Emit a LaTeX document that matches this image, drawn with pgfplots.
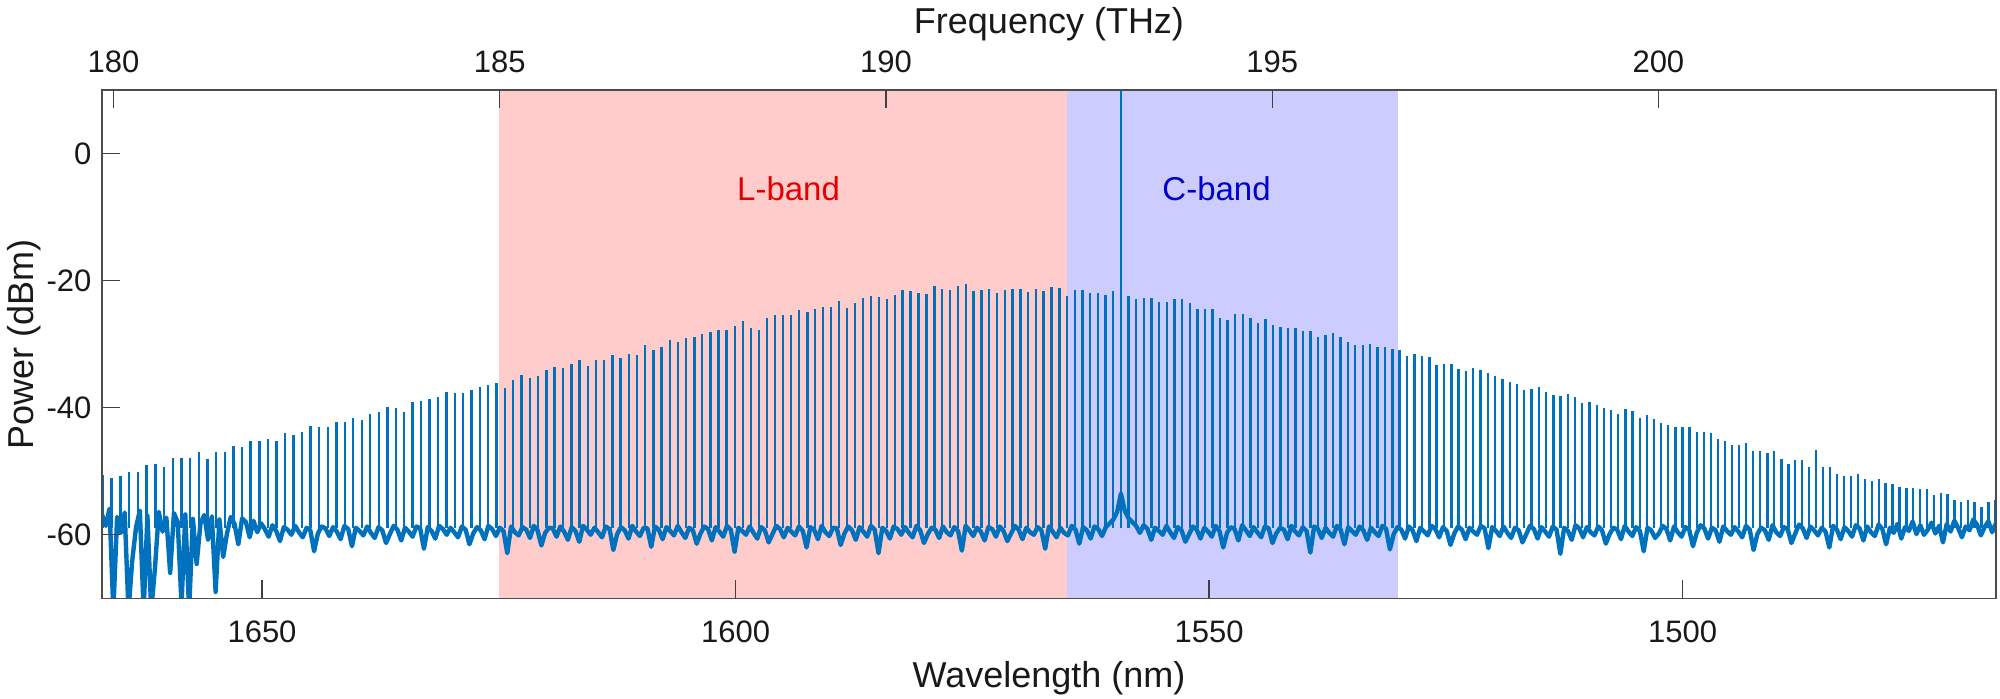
\documentclass[border=0pt]{standalone}
\usepackage{fontspec}
\setmainfont{Liberation Sans}
\usepackage{pgfplots}
\pgfplotsset{compat=1.18}
\usepackage{pgfplotstable}
\definecolor{mblue}{RGB}{0,114,189}
\definecolor{lband}{RGB}{255,204,204}
\definecolor{cband}{RGB}{204,204,255}
\definecolor{ltext}{RGB}{228,0,0}
\definecolor{ctext}{RGB}{0,0,204}

% comb line peak powers (dBm), lines at 179.86 + 0.1*i THz, i = 0..245
\pgfplotstableread[row sep=\\]{
p\\
-50.6\\ -51.1\\ -50.8\\ -50.2\\ -50.2\\ -49.0\\ -48.8\\ -49.4\\ -47.9\\ -47.9\\
-47.9\\ -46.9\\ -48.1\\ -47.0\\ -46.9\\ -46.1\\ -46.2\\ -45.3\\ -45.2\\ -45.0\\
-45.3\\ -44.0\\ -44.3\\ -43.9\\ -42.9\\ -43.1\\ -43.0\\ -42.3\\ -42.2\\ -41.7\\
-41.9\\ -41.0\\ -40.7\\ -39.9\\ -40.1\\ -40.6\\ -39.1\\ -38.9\\ -38.7\\ -38.3\\
-37.5\\ -37.7\\
-37.7\\ -37.2\\ -36.7\\ -36.4\\ -36.1\\ -36.9\\ -35.6\\ -34.8\\ -35.3\\ -35.0\\
-34.0\\ -33.6\\ -33.8\\ -33.1\\ -32.5\\ -33.4\\ -32.5\\ -32.5\\ -31.7\\ -32.2\\
-31.6\\ -31.7\\ -30.1\\ -30.9\\ -30.4\\ -29.3\\ -29.7\\ -29.1\\ -28.9\\ -28.4\\
-28.1\\ -27.7\\ -27.7\\ -27.2\\ -26.4\\ -27.5\\ -27.7\\ -25.9\\ -25.4\\ -25.4\\
-25.4\\ -24.6\\ -24.9\\ -24.5\\ -24.2\\ -24.2\\ -23.2\\ -24.3\\ -23.5\\ -22.8\\
-22.5\\ -22.6\\ -22.9\\ -22.2\\ -21.4\\ -21.7\\ -21.9\\ -22.1\\ -20.9\\ -21.3\\
-21.4\\ -20.9\\ -20.5\\ -21.6\\ -21.4\\ -21.3\\ -22.0\\ -21.4\\ -21.3\\ -21.3\\
-21.8\\ -21.3\\ -21.7\\ -21.0\\ -21.2\\ -22.4\\
-21.5\\ -21.4\\ -21.9\\ -21.9\\ -22.3\\ -21.6\\
20\\
-22.4\\ -22.9\\ -22.7\\ -22.7\\ -23.3\\ -23.3\\ -22.9\\ -22.9\\ -23.6\\ -24.4\\
-24.4\\ -24.4\\ -25.9\\ -26.2\\ -25.3\\ -25.2\\ -25.9\\ -26.7\\ -26.1\\ -27.0\\
-27.3\\ -27.5\\ -27.4\\ -27.9\\ -27.9\\ -28.9\\ -28.6\\ -28.3\\ -28.9\\ -29.6\\
-30.1\\ -30.2\\ -30.0\\ -30.4\\ -30.4\\ -30.8\\ -30.9\\ -31.9\\ -31.6\\ -31.8\\
-32.0\\ -33.3\\ -33.2\\ -33.1\\ -33.9\\ -34.2\\ -33.8\\ -34.1\\ -34.6\\ -35.0\\
-35.5\\ -35.9\\ -36.3\\ -37.2\\ -37.0\\ -36.7\\ -37.5\\ -38.0\\ -38.2\\ -37.9\\
-38.3\\ -39.2\\ -39.1\\ -39.6\\
-40.0\\ -40.3\\ -41.0\\ -40.2\\ -40.5\\ -41.6\\ -41.2\\ -41.8\\ -42.4\\ -42.7\\
-43.1\\ -43.1\\ -43.0\\ -43.9\\ -43.9\\ -44.0\\ -45.0\\ -45.2\\ -45.8\\ -45.8\\
-45.6\\ -46.8\\ -46.8\\ -47.2\\ -46.8\\ -48.0\\ -48.9\\ -48.3\\ -48.2\\ -49.4\\
-46.6\\ -49.4\\ -49.4\\ -50.4\\ -50.7\\ -50.7\\ -50.4\\ -51.3\\ -51.6\\ -51.3\\
-51.8\\ -52.0\\ -52.5\\ -52.7\\ -52.7\\ -52.8\\ -52.8\\ -53.7\\ -53.4\\ -53.6\\
-54.6\\ -54.8\\ -54.5\\ -54.9\\ -55.6\\ -54.9\\ -54.5\\
}\combtab

% noise floor (dBm), sampled every 0.4 nm from 1466.9 nm
\pgfplotstableread[row sep=\\]{
n\\
-58.2\\ -59.6\\ -57.9\\ -58.8\\ -60.1\\ -58.4\\ -57.6\\ -59.3\\ -58.7\\ -60.4\\
-58.9\\ -57.8\\ -59.5\\ -58.3\\ -61.2\\ -58.6\\ -59.8\\ -58.1\\ -59.2\\ -60.0\\
-58.5\\ -59.9\\ -57.9\\ -59.4\\ -58.8\\ -60.6\\ -58.3\\ -59.7\\ -58.9\\ -61.5\\
-59.1\\ -58.4\\ -60.2\\ -59.6\\ -58.7\\ -60.9\\ -59.0\\ -58.5\\ -60.3\\ -59.4\\
-58.8\\ -60.7\\ -59.2\\ -58.6\\ -62.0\\ -59.5\\ -58.9\\ -60.1\\ -59.3\\ -58.7\\
-60.5\\ -59.0\\ -58.4\\ -59.8\\ -61.3\\ -59.1\\ -58.8\\ -60.2\\ -59.6\\ -58.5\\
-60.8\\ -59.3\\ -58.9\\ -59.9\\ -62.4\\ -59.2\\ -58.6\\ -60.4\\ -59.5\\ -58.8\\
-60.0\\ -59.4\\ -58.7\\ -61.1\\ -59.3\\ -58.9\\ -60.6\\ -59.0\\ -58.5\\ -59.7\\
-61.8\\ -59.2\\ -58.8\\ -60.3\\ -59.6\\ -58.7\\ -60.9\\ -59.1\\ -58.6\\ -59.8\\
-60.5\\ -59.3\\ -58.9\\ -62.6\\ -59.4\\ -58.8\\ -60.2\\ -59.5\\ -58.6\\ -60.7\\
-59.2\\ -58.9\\ -59.9\\ -61.4\\ -59.3\\ -58.7\\ -60.1\\ -59.6\\ -58.8\\ -60.4\\
-59.0\\ -58.5\\ -60.8\\ -59.4\\ -58.9\\ -63.0\\ -59.2\\ -58.7\\ -60.3\\ -59.5\\
-58.8\\ -60.6\\ -59.1\\ -58.6\\ -59.9\\ -61.2\\ -59.3\\ -58.9\\ -60.5\\ -59.7\\
-58.7\\ -60.2\\ -59.4\\ -58.8\\ -62.1\\ -59.0\\ -58.6\\ -60.0\\ -59.5\\ -58.9\\
-60.7\\ -59.2\\ -58.7\\ -59.8\\ -61.6\\ -59.4\\ -58.8\\ -60.4\\ -59.1\\ -58.6\\
-60.1\\ -59.5\\ -58.9\\ -61.0\\ -59.3\\ -58.7\\ -60.6\\ -59.2\\ -58.8\\ -59.9\\
-62.3\\ -59.1\\ -58.6\\ -60.2\\ -59.6\\ -58.9\\ -60.8\\ -59.3\\ -58.7\\ -60.0\\
-59.4\\ -58.8\\ -61.5\\ -59.2\\ -58.6\\ -60.3\\ -59.7\\ -58.9\\ -60.5\\ -59.1\\
-58.7\\ -62.8\\ -59.4\\ -58.8\\ -60.1\\ -59.5\\ -58.6\\ -60.7\\ -59.2\\ -58.9\\
-59.8\\ -61.3\\ -59.0\\ -58.7\\ -60.4\\ -59.6\\ -58.8\\ -60.2\\ -59.3\\ -58.5\\
-60.9\\ -59.1\\ -58.8\\ -59.7\\ -62.0\\ -59.4\\ -58.6\\ -60.3\\ -59.5\\ -58.9\\
-60.6\\ -59.2\\ -58.7\\ -59.9\\ -61.1\\ -59.3\\ -58.8\\ -60.5\\ -59.6\\ -58.6\\
-60.0\\ -59.4\\ -58.9\\ -60.8\\ -59.1\\ -58.5\\ -59.7\\ -58.6\\ -58.0\\ -57.4\\
-56.2\\ -53.5\\ -56.4\\ -57.6\\ -58.2\\ -58.8\\ -60.2\\ -59.1\\ -58.7\\ -60.6\\
-59.3\\ -58.8\\ -61.4\\ -59.2\\ -58.6\\ -60.1\\ -59.7\\ -58.9\\ -60.4\\ -59.5\\
-58.7\\ -62.2\\ -59.3\\ -58.8\\ -60.0\\ -59.6\\ -58.9\\ -60.7\\ -59.2\\ -58.6\\
-59.8\\ -61.0\\ -59.4\\ -58.7\\ -60.3\\ -59.1\\ -58.8\\ -60.9\\ -59.5\\ -58.9\\
-60.2\\ -59.3\\ -58.6\\ -62.5\\ -59.4\\ -58.8\\ -60.1\\ -59.6\\ -58.7\\ -60.5\\
-59.2\\ -58.9\\ -59.9\\ -61.3\\ -59.3\\ -58.6\\ -60.4\\ -59.7\\ -58.8\\ -60.0\\
-59.1\\ -58.7\\ -60.6\\ -59.4\\ -58.9\\ -62.9\\ -59.2\\ -58.6\\ -60.3\\ -59.5\\
-58.8\\ -60.8\\ -59.3\\ -58.7\\ -59.8\\ -61.6\\ -59.0\\ -58.9\\ -60.2\\ -59.6\\
-58.6\\ -60.7\\ -59.2\\ -58.8\\ -62.0\\ -59.4\\ -58.7\\ -60.1\\ -59.5\\ -58.9\\
-60.4\\ -59.1\\ -58.6\\ -59.9\\ -61.2\\ -59.3\\ -58.8\\ -60.6\\ -59.7\\ -58.7\\
-60.0\\ -59.4\\ -58.9\\ -62.7\\ -59.2\\ -58.6\\ -60.3\\ -59.5\\ -58.8\\ -60.9\\
-59.1\\ -58.7\\ -59.8\\ -61.4\\ -59.3\\ -58.9\\ -60.5\\ -59.6\\ -58.6\\ -60.1\\
-59.4\\ -58.8\\ -60.7\\ -59.2\\ -58.7\\ -61.9\\ -59.0\\ -58.9\\ -60.2\\ -59.5\\
-58.6\\ -60.6\\ -59.3\\ -58.8\\ -59.9\\ -62.4\\ -59.1\\ -58.7\\ -60.4\\ -59.6\\
-58.9\\ -60.0\\ -59.2\\ -58.6\\ -61.1\\ -59.4\\ -58.8\\ -60.8\\ -59.5\\ -58.7\\
-60.3\\ -59.0\\ -58.9\\ -59.7\\ -61.7\\ -59.3\\ -58.6\\ -60.5\\ -59.2\\ -58.8\\
-60.1\\ -59.6\\ -58.7\\ -62.9\\ -59.4\\ -58.9\\ -60.2\\ -59.1\\ -58.6\\ -60.7\\
-59.3\\ -58.8\\ -59.8\\ -61.5\\ -59.2\\ -58.7\\ -60.4\\ -59.6\\ -58.9\\ -60.0\\
-59.1\\ -58.6\\ -60.6\\ -59.4\\ -58.8\\ -62.2\\ -59.0\\ -58.7\\ -60.3\\ -59.5\\
-58.9\\ -60.9\\ -59.2\\ -58.6\\ -59.9\\ -61.3\\ -59.3\\ -58.8\\ -60.5\\ -59.7\\
-58.7\\ -60.1\\ -59.4\\ -58.9\\ -61.8\\ -59.1\\ -58.6\\ -60.7\\ -59.5\\ -58.8\\
-60.2\\ -59.0\\ -58.7\\ -59.8\\ -62.6\\ -59.3\\ -58.9\\ -60.4\\ -59.6\\ -58.6\\
-60.0\\ -59.2\\ -58.8\\ -61.0\\ -59.4\\ -58.5\\ -60.3\\ -59.1\\ -58.2\\ -59.6\\
-57.8\\ -60.4\\ -58.0\\ -57.4\\ -61.5\\ -58.3\\ -57.2\\ -59.8\\ -63.5\\ -57.6\\
-69.0\\ -57.1\\ -60.8\\ -56.9\\ -58.2\\ -64.6\\ -57.5\\ -72.0\\ -56.8\\ -71.0\\
-58.0\\ -56.6\\ -66.0\\ -57.3\\ -59.5\\ -56.4\\ -65.2\\ -72.0\\ -57.0\\ -72.0\\
-56.2\\ -58.8\\ -64.0\\ -72.0\\ -56.5\\ -59.7\\ -57.2\\ -72.0\\ -55.9\\ -58.6\\
-56.8\\
}\noisetab

\begin{document}
\begin{tikzpicture}
\path[use as bounding box] (-51bp,-50.35bp) rectangle (949bp,299.15bp);
\begin{axis}[
  at={(0,0)}, anchor=south west,
  scale only axis, width=947bp, height=254.15bp,
  xmin=1466.9, xmax=1666.9, x dir=reverse,
  ymin=-70, ymax=10,
  xtick={1500,1550,1600,1650}, xticklabels={1500,1550,1600,1650},
  ytick={-60,-40,-20,0}, yticklabels={-60,-40,-20,0},
  xtick pos=left, ytick pos=left,
  tick align=inside,
  major tick length=9bp,
  axis line style={draw=black!70, line width=0.7bp},
  tick style={draw=black!75, line width=0.6bp},
  ticklabel style={font=\fontsize{15.5bp}{18bp}\selectfont, text=black!90},
  xticklabel style={anchor=base, yshift=-22bp},
  yticklabel style={anchor=east, xshift=-1.8bp},
  xlabel={Wavelength (nm)}, ylabel={Power (dBm)},
  label style={font=\fontsize{18bp}{21bp}\selectfont, text=black!90},
  xlabel style={at={(axis description cs:0.5,-0.1751)}, anchor=base},
  ylabel style={at={(axis description cs:-0.0359,0.5)}, anchor=base},
  axis on top,
]
\addplot[draw=none, fill=lband] coordinates {(1565,-70) (1625,-70) (1625,10) (1565,10)} -- cycle;
\addplot[draw=none, fill=cband] coordinates {(1530,-70) (1565,-70) (1565,10) (1530,10)} -- cycle;
\node[text=ltext, font=\fontsize{16.5bp}{20bp}\selectfont] at (axis cs:1594.4,-5.6) {L-band};
\node[text=ctext, font=\fontsize{16.5bp}{20bp}\selectfont] at (axis cs:1549.2,-5.6) {C-band};
\addplot[draw=mblue, line width=2.2bp, line join=round] table[x expr={1466.9+0.4*\coordindex}, y index=0] {\noisetab};
\addplot[draw=mblue, line width=1.2bp, quiver={u=0, v=\thisrow{p}+59}] table[x index=0, y index=0, x expr={2997.92458/(1.7986+0.001*\coordindex)}, y expr=-59] {\combtab};
\end{axis}
\begin{axis}[
  at={(0,0)}, anchor=south west,
  scale only axis, width=947bp, height=254.15bp,
  xmin=179.8503, xmax=204.3712,
  ymin=-70, ymax=10,
  hide y axis, ytick=\empty,
  axis line style={draw=none},
  xtick={180,185,190,195,200}, xticklabels={180,185,190,195,200},
  xtick pos=right, xticklabel pos=right,
  tick align=inside,
  major tick length=9bp,
  tick style={draw=black!75, line width=0.6bp},
  ticklabel style={font=\fontsize{15.5bp}{18bp}\selectfont, text=black!90},
  xticklabel style={anchor=base, yshift=8.85bp},
  xlabel={Frequency (THz)},
  label style={font=\fontsize{18bp}{21bp}\selectfont, text=black!90},
  xlabel style={at={(axis description cs:0.5,1.1121)}, anchor=base},
]
\end{axis}
\end{tikzpicture}
\end{document}
